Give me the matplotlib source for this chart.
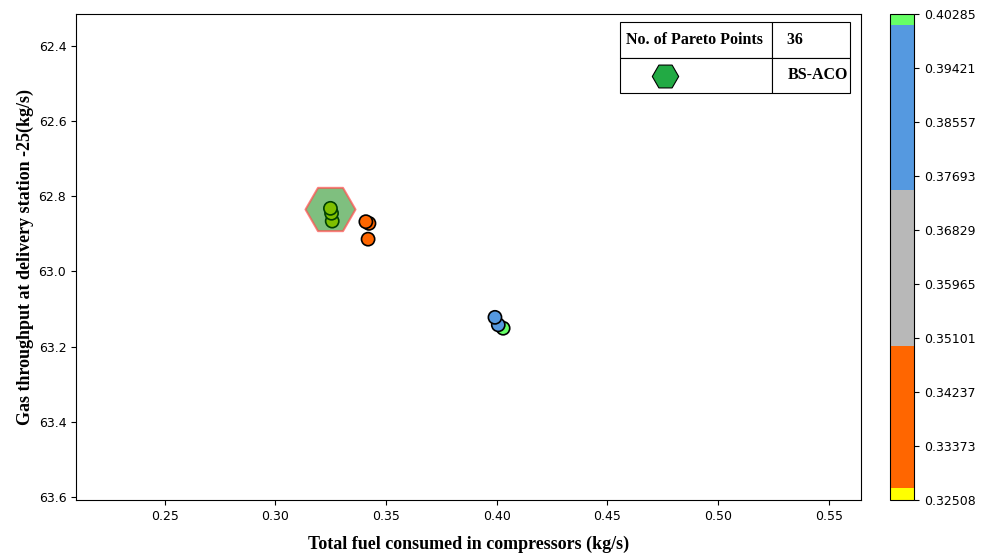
import matplotlib
matplotlib.use("Agg")
import matplotlib.pyplot as plt
import numpy as np
from matplotlib.colors import ListedColormap, BoundaryNorm

# pareto front points (fuel, throughput)
fuel = [0.4029, 0.4007, 0.3992, 0.3423, 0.3419, 0.3409, 0.3257, 0.3254, 0.3249]
throughput = [63.151, 63.142, 63.122, 62.872, 62.914, 62.8675, 62.866, 62.845, 62.832]

# selected point marked by the hexagon
best_fuel = 0.3248
best_throughput = 62.833

# colour bands for the fuel value
band_colors = ["#ffff00", "#ff6600", "#b8b8b8", "#5599e0", "#66ff66"]
band_edges = [0.32508, 0.3270, 0.3498, 0.3747, 0.4011, 0.40285]
cbar_ticks = [0.32508, 0.33373, 0.34237, 0.35101, 0.35965, 0.36829,
              0.37693, 0.38557, 0.39421, 0.40285]

n_points = 36
algo_name = "BS-ACO"

cmap = ListedColormap(band_colors)
norm = BoundaryNorm(band_edges, cmap.N)

fig = plt.figure(figsize=(9.86, 5.56), dpi=100)
ax = fig.add_axes([0.0771, 0.1007, 0.7961, 0.8741])
cax = fig.add_axes([0.9026, 0.1007, 0.0243, 0.8741])

sc = ax.scatter(fuel, throughput, c=fuel, cmap=cmap, norm=norm, s=90,
                edgecolors="black", linewidths=1.2, zorder=2)
ax.scatter([best_fuel], [best_throughput], marker="H", s=1296,
           facecolor=(0, 0.5, 0, 0.5), edgecolor=(1, 0.3, 0.3, 0.7),
           linewidths=1.5, zorder=3)

ax.set_xlim(0.21, 0.5645)
ax.set_ylim(63.608, 62.315)
ax.set_xticks([0.25, 0.30, 0.35, 0.40, 0.45, 0.50, 0.55])
ax.set_yticks([62.4, 62.6, 62.8, 63.0, 63.2, 63.4, 63.6])
ax.tick_params(labelsize=9)

lab = dict(family="Liberation Serif", weight="bold", size=13)
ax.set_xlabel("Total fuel consumed in compressors (kg/s)", labelpad=9, **lab)
ax.set_ylabel("Gas throughput at delivery station -25(kg/s)", labelpad=3, **lab)

# legend table in the upper right corner
tbl = ax.table(cellText=[["No. of Pareto Points", "   " + str(n_points)], ["", algo_name]],
               bbox=[0.693, 0.8374, 0.293, 0.1461], colWidths=[0.66, 0.34],
               cellLoc="left", zorder=5)
tbl.auto_set_font_size(False)
for (r, c), cell in tbl.get_celld().items():
    cell.set_linewidth(0.8)
    cell.set_facecolor("white")
    cell.PAD = 0.04
    cell.get_text().set_fontproperties(
        matplotlib.font_manager.FontProperties(family="Liberation Serif", weight="bold", size=11.5))
tbl[1, 1].get_text().set_ha("right")
tbl[1, 1].PAD = 0.02
ax.plot([0.750], [0.8724], marker="H", markersize=19, color="#22aa44",
        markeredgecolor="black", markeredgewidth=0.8, transform=ax.transAxes,
        zorder=6, clip_on=False)

cb = fig.colorbar(sc, cax=cax, spacing="proportional", ticks=cbar_ticks)
cb.ax.minorticks_off()
cb.ax.set_yticklabels(["%.5f" % t for t in cbar_ticks])
cb.ax.tick_params(labelsize=9)

fig.savefig("out.png", dpi=100)
